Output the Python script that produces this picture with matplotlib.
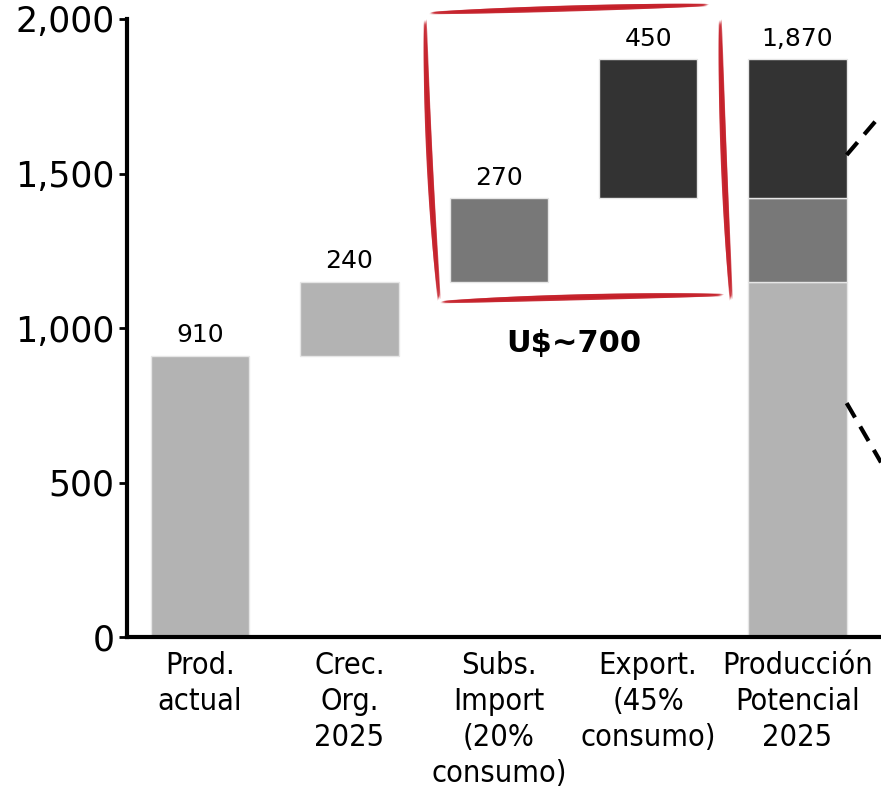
import matplotlib
matplotlib.use("Agg")
import numpy as np
import matplotlib.pyplot as plt
from matplotlib.patches import Polygon
from matplotlib.ticker import FuncFormatter

categories = ["Prod.\nactual", "Crec.\nOrg.\n2025", "Subs.\nImport\n(20%\nconsumo)",
              "Export.\n(45%\nconsumo)", "Producción\nPotencial\n2025"]
current = 910
organic = 240
import_sub = 270
export = 450
total = current + organic + import_sub + export

light, mid, dark = "#b3b3b3", "#787878", "#333333"

W, H = 881, 786
fig = plt.figure(figsize=(W / 100, H / 100), dpi=100)
ax = fig.add_axes([127 / W, 149 / H, 1 - 127 / W, (637 - 19) / H])

w = 0.66
edge = dict(edgecolor="#e6e6e6", linewidth=1)
ax.bar(0, current, w, color=light, **edge)
ax.bar(1, organic, w, bottom=current, color=light, **edge)
ax.bar(2, import_sub, w, bottom=current + organic, color=mid, **edge)
ax.bar(3, export, w, bottom=current + organic + import_sub, color=dark, **edge)
ax.bar(4, current + organic, w, color=light, **edge)
ax.bar(4, import_sub, w, bottom=current + organic, color=mid, **edge)
ax.bar(4, export, w, bottom=current + organic + import_sub, color=dark, **edge)

tops = [current, current + organic, current + organic + import_sub, total, total]
vals = [current, organic, import_sub, export, total]
for i, (t, v) in enumerate(zip(tops, vals)):
    ax.text(i, t + 28, f"{v:,}", ha="center", va="bottom", fontsize=18)

ax.text(2.5, 950, "U$~700", ha="center", va="center", fontsize=22, fontweight="bold")

ax.set_ylim(0, 2000)
ax.set_xlim(-0.49, 4.56)
ax.set_yticks([0, 500, 1000, 1500, 2000])
ax.yaxis.set_major_formatter(FuncFormatter(lambda v, p: f"{int(v):,}"))
ax.tick_params(axis="y", labelsize=25, width=2, length=6, pad=3)
ax.set_xticks(range(5))
ax.set_xticklabels(categories, fontsize=22, fontstretch="condensed", linespacing=1.3)
ax.tick_params(axis="x", length=0, pad=10)
for s in ["top", "right"]:
    ax.spines[s].set_visible(False)
for s in ["left", "bottom"]:
    ax.spines[s].set_linewidth(3)

# dashed connector lines leading off the right edge
ax.plot([4.33, 4.56], [1560, 1690], color="black",
        lw=3, ls=(0, (4, 2.5)), clip_on=False)
ax.plot([4.33, 4.56], [757, 565], color="black",
        lw=3, ls=(0, (4, 2.5)), clip_on=False)


# hand-drawn red box: tapered brush strokes along gently curved paths
def brush(p0, pc, p1, width, alpha, shift=(0, 0)):
    t = np.linspace(0, 1, 60)
    p0, pc, p1 = (np.array(p, float) + shift for p in (p0, pc, p1))
    pts = ((1 - t) ** 2)[:, None] * p0 + (2 * t * (1 - t))[:, None] * pc + (t ** 2)[:, None] * p1
    d = np.gradient(pts, axis=0)
    n = np.stack([-d[:, 1], d[:, 0]], axis=1)
    n /= np.linalg.norm(n, axis=1)[:, None]
    half = 0.5 * width * np.sin(np.pi * t) ** 0.45
    outline = np.vstack([pts + n * half[:, None], (pts - n * half[:, None])[::-1]])
    outline[:, 0] /= W
    outline[:, 1] = 1 - outline[:, 1] / H
    fig.add_artist(Polygon(outline, closed=True, transform=fig.transFigure,
                           facecolor="#c41a24", edgecolor="none", alpha=alpha))


sides = [
    ((430, 13), (570, 8), (708, 5)),      # top
    ((720, 20), (722, 160), (731, 300)),  # right
    ((441, 302), (580, 296), (723, 295)), # bottom
    ((425, 20), (427, 160), (439, 300)),  # left
]
passes = [(6.0, 0.85, (0, 0)), (4.0, 0.7, (1.2, -0.8)), (3.0, 0.6, (-1.0, 1.0))]
for side in sides:
    for width, alpha, shift in passes:
        brush(*side, width, alpha, shift)

fig.savefig("out.png", dpi=100)
